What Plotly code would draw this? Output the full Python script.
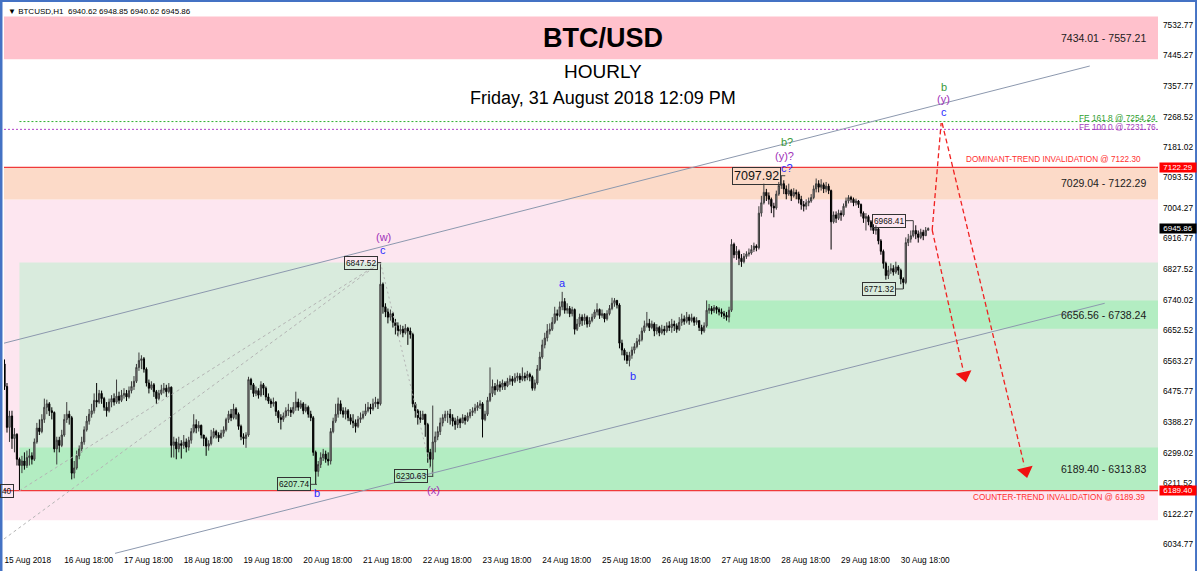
import plotly.graph_objects as go
from datetime import datetime, timedelta

# ---------------- DATA ----------------
T0 = datetime(2018, 8, 15, 18, 0)          # first hourly bar
first_open = 6555

closes = [
    6490, 6372, 6405, 6340, 6352, 6280, 6262, 6275, 6262, 6285,
    6290, 6280, 6330, 6370, 6360, 6395, 6430, 6440, 6420, 6415,
    6310, 6335, 6320, 6350, 6395, 6410, 6400, 6240, 6255,
    6290, 6310, 6330, 6365, 6390, 6410, 6420, 6450, 6445, 6470,
    6455, 6430, 6420, 6445,
    6455, 6445, 6462, 6450, 6465, 6470, 6460, 6478, 6490, 6505,
    6545, 6565, 6570, 6540, 6500, 6485, 6495, 6475,
    6455, 6470, 6480, 6485, 6475, 6488, 6320, 6330, 6310, 6325,
    6320, 6330, 6315, 6335, 6360, 6380, 6370, 6378, 6350,
    6340, 6318, 6325, 6345, 6360, 6350, 6342, 6355, 6365, 6395,
    6410, 6400, 6425, 6410, 6375, 6345, 6340, 6350, 6510, 6495,
    6470, 6478, 6465,
    6495, 6485, 6460, 6448, 6440, 6445, 6418, 6400, 6395, 6405, 6420,
    6422, 6415, 6430, 6445, 6430, 6440, 6420, 6430, 6410, 6400,
    6300, 6245, 6265, 6285, 6295, 6280,
    6275, 6360, 6390, 6410, 6440, 6420, 6410, 6420, 6400, 6390,
    6385, 6375, 6395, 6400, 6410, 6420, 6430, 6425, 6440, 6445, 6440,
    6785, 6720, 6705, 6690, 6700, 6675, 6665, 6650,
    6655, 6645, 6658, 6650, 6640, 6440, 6420, 6400, 6395, 6410,
    6380, 6300, 6280, 6330, 6345, 6360, 6385, 6400, 6410,
    6410, 6400, 6390, 6380, 6395, 6385, 6400, 6392, 6405, 6415,
    6420, 6428, 6435, 6440, 6395, 6410, 6450, 6470, 6490, 6480,
    6495, 6488, 6500, 6492, 6505,
    6512, 6505, 6515, 6520, 6510, 6520, 6515, 6525, 6518, 6485,
    6500, 6540, 6575, 6610, 6630, 6650, 6655, 6675, 6700, 6695,
    6720, 6735, 6710, 6715, 6700, 6712, 6655, 6670, 6690, 6680,
    6690, 6670, 6680, 6690, 6705, 6712, 6695, 6700,
    6685, 6700, 6715, 6730, 6738, 6725, 6615, 6595, 6580, 6565,
    6580, 6595, 6605, 6620, 6625, 6650, 6665, 6672, 6660, 6670,
    6650, 6660, 6645, 6655, 6650, 6665, 6660,
    6670, 6665, 6655, 6675, 6685, 6678, 6690, 6680, 6688, 6675, 6680,
    6660, 6650, 6665, 6710, 6715, 6708, 6718, 6712, 6705,
    6700, 6695, 6690, 6710, 6900, 6870, 6880, 6860, 6850, 6865, 6872,
    6875, 6885, 6895, 6890, 6990, 7020, 7050, 7040, 7030, 7010,
    7005, 7045, 7070, 7075, 7060, 7045, 7055, 7040, 7050, 7045, 7030, 7015,
    7010, 7020, 7025, 7035, 7060, 7075, 7065, 7072, 7060, 7068,
    7055, 6965, 6985, 6975, 6990, 6985, 7010, 7025, 7035, 7030, 7020, 7025, 7015,
    6990, 6975, 6980, 6965, 6950, 6940, 6945, 6910, 6880, 6845,
    6810, 6825, 6830, 6820, 6835, 6825, 6800, 6790, 6905, 6915,
    6925, 6940, 6930, 6920, 6935, 6925, 6940.62, 6945.86,
]

highs = [
    6568, 6500, 6420, 6420, 6370, 6355, 6285, 6290, 6300, 6305,
    6310, 6300, 6340, 6385, 6395, 6410, 6455, 6452, 6445, 6430,
    6418, 6345, 6345, 6365, 6410, 6445, 6420, 6405, 6275,
    6305, 6320, 6345, 6375, 6405, 6425, 6440, 6470, 6500, 6480,
    6478, 6460, 6445, 6455,
    6465, 6470, 6510, 6475, 6480, 6485, 6480, 6490, 6505, 6520,
    6555, 6588, 6580, 6575, 6545, 6510, 6505, 6500,
    6480, 6480, 6495, 6500, 6495, 6500, 6490, 6345, 6340, 6345,
    6335, 6350, 6340, 6345, 6370, 6410, 6395, 6390, 6380,
    6350, 6345, 6335, 6365, 6370, 6365, 6358, 6365, 6375, 6400,
    6420, 6425, 6440, 6430, 6415, 6380, 6355, 6358, 6518, 6515,
    6500, 6490, 6485,
    6505, 6500, 6490, 6470, 6455, 6458, 6448, 6422, 6410, 6415, 6430,
    6440, 6430, 6445, 6475, 6455, 6450, 6445, 6440, 6435, 6420,
    6405, 6305, 6275, 6300, 6310, 6305,
    6300, 6370, 6400, 6440, 6458, 6450, 6430, 6430, 6425, 6410,
    6410, 6395, 6405, 6415, 6420, 6440, 6445, 6440, 6455, 6460, 6455,
    6847.52, 6790, 6730, 6715, 6712, 6705, 6685, 6675,
    6668, 6665, 6670, 6662, 6660, 6645, 6445, 6425, 6420, 6420,
    6410, 6385, 6310, 6435, 6360, 6375, 6400, 6410, 6420,
    6420, 6425, 6410, 6400, 6405, 6400, 6410, 6408, 6415, 6425,
    6430, 6440, 6445, 6450, 6445, 6420, 6460, 6545, 6510, 6500,
    6510, 6505, 6510, 6505, 6515,
    6522, 6520, 6528, 6530, 6528, 6545, 6530, 6535, 6530, 6522,
    6510, 6552, 6590, 6625, 6645, 6670, 6672, 6690, 6720, 6712,
    6735, 6763, 6745, 6730, 6722, 6720, 6715, 6685, 6700, 6698,
    6700, 6695, 6690, 6700, 6712, 6730, 6715, 6712,
    6700, 6710, 6725, 6746, 6745, 6740, 6730, 6625, 6600, 6590,
    6590, 6605, 6615, 6630, 6640, 6660, 6680, 6705, 6685, 6680,
    6675, 6670, 6665, 6668, 6665, 6675, 6678,
    6685, 6680, 6672, 6690, 6700, 6695, 6705, 6698, 6700, 6692, 6690,
    6680, 6668, 6675, 6738.24, 6728, 6722, 6725, 6722, 6718,
    6715, 6708, 6705, 6720, 6915, 6905, 6895, 6885, 6872, 6875, 6880,
    6888, 6898, 6905, 6900, 7010, 7040, 7075, 7060, 7050, 7035,
    7020, 7055, 7080, 7097.92, 7085, 7070, 7075, 7060, 7062, 7058, 7052, 7040,
    7025, 7030, 7035, 7045, 7070, 7090, 7085, 7088, 7078, 7080,
    7075, 7058, 6995, 6995, 7000, 6998, 7018, 7035, 7042, 7040, 7035, 7032, 7028,
    7018, 6995, 6990, 6985, 6970, 6958, 6955, 6948, 6915, 6885,
    6850, 6838, 6845, 6840, 6850, 6840, 6830, 6805, 6920, 6930,
    6940, 6968.41, 6955, 6940, 6945, 6942, 6950, 6948.85,
]

lows = [
    6480, 6357, 6330, 6310, 6300, 6262, 6189.40, 6240, 6250, 6255,
    6262, 6265, 6275, 6325, 6350, 6355, 6385, 6410, 6405, 6395,
    6300, 6265, 6300, 6315, 6345, 6385, 6380, 6222, 6225,
    6250, 6280, 6300, 6322, 6360, 6380, 6400, 6412, 6430, 6440,
    6440, 6420, 6403, 6415,
    6430, 6435, 6440, 6440, 6445, 6455, 6448, 6455, 6470, 6480,
    6500, 6535, 6540, 6530, 6490, 6470, 6480, 6460,
    6440, 6450, 6465, 6470, 6460, 6470, 6285, 6285, 6280, 6300,
    6282, 6310, 6300, 6305, 6325, 6355, 6355, 6360, 6340,
    6318, 6290, 6305, 6320, 6340, 6340, 6330, 6340, 6345, 6360,
    6385, 6390, 6395, 6395, 6365, 6335, 6322, 6313, 6345, 6480,
    6460, 6462, 6455,
    6460, 6465, 6450, 6440, 6428, 6432, 6405, 6385, 6366, 6388, 6400,
    6405, 6402, 6410, 6420, 6420, 6425, 6410, 6415, 6400, 6390,
    6290, 6207.74, 6230, 6255, 6275, 6270,
    6262, 6265, 6355, 6385, 6400, 6410, 6400, 6395, 6390, 6380,
    6370, 6357, 6370, 6385, 6395, 6405, 6415, 6410, 6420, 6430, 6425,
    6435, 6700, 6690, 6672, 6680, 6660, 6640, 6635,
    6640, 6632, 6640, 6610, 6628, 6430, 6400, 6380, 6385, 6395,
    6345, 6270, 6255, 6230.63, 6300, 6335, 6350, 6375, 6390,
    6385, 6380, 6375, 6365, 6370, 6370, 6385, 6380, 6388, 6398,
    6405, 6412, 6420, 6425, 6343, 6390, 6405, 6445, 6460, 6465,
    6475, 6475, 6480, 6480, 6488,
    6495, 6492, 6500, 6505, 6500, 6505, 6505, 6508, 6505, 6478,
    6478, 6495, 6535, 6570, 6600, 6620, 6640, 6650, 6670, 6680,
    6690, 6710, 6700, 6700, 6690, 6692, 6640, 6650, 6662, 6665,
    6668, 6660, 6662, 6675, 6685, 6695, 6685, 6688,
    6675, 6680, 6695, 6710, 6720, 6715, 6600, 6580, 6565, 6555,
    6548, 6570, 6585, 6600, 6610, 6620, 6645, 6660, 6650, 6655,
    6635, 6640, 6635, 6640, 6638, 6645, 6650,
    6645, 6650, 6645, 6650, 6665, 6668, 6672, 6668, 6675, 6665, 6668,
    6650, 6640, 6645, 6660, 6700, 6698, 6702, 6700, 6695,
    6690, 6685, 6680, 6675, 6705, 6860, 6855, 6840, 6835, 6845, 6858,
    6865, 6870, 6878, 6880, 6885, 6980, 7015, 7025, 7015, 6990,
    6978, 7000, 7040, 7060, 7045, 7030, 7040, 7025, 7035, 7030, 7018, 7000,
    6995, 7000, 7010, 7020, 7030, 7050, 7050, 7055, 7048, 7050,
    7045, 6885, 6960, 6962, 6970, 6968, 6980, 7005, 7018, 7020, 7010, 7012, 7005,
    6980, 6962, 6940, 6955, 6940, 6930, 6928, 6900, 6870, 6830,
    6798, 6800, 6815, 6810, 6815, 6812, 6785, 6771.32, 6785, 6895,
    6905, 6920, 6915, 6905, 6915, 6912, 6925, 6940.62,
]

# price-axis tick values (as printed on the right scale)
ytick_vals = [7532.77, 7445.27, 7357.77, 7268.52, 7181.02, 7093.52, 7004.27,
              6916.77, 6827.52, 6740.02, 6652.52, 6563.27, 6475.77, 6388.27,
              6299.02, 6211.52, 6122.27, 6034.77]
# time-axis labels: every 24 bars
xtick_hours = [0, 24, 48, 72, 96, 120, 144, 168, 192, 216, 240, 264, 288, 312, 336, 360]
xtick_text = ["15 Aug 2018", "16 Aug 18:00", "17 Aug 18:00", "18 Aug 18:00", "19 Aug 18:00",
              "20 Aug 18:00", "21 Aug 18:00", "22 Aug 18:00", "23 Aug 18:00", "24 Aug 18:00",
              "25 Aug 18:00", "26 Aug 18:00", "27 Aug 18:00", "28 Aug 18:00", "29 Aug 18:00",
              "30 Aug 18:00"]

# support / resistance zones (low, high)
zone_labels = ["7434.01 - 7557.21", "7029.04 - 7122.29", "6656.56 - 6738.24", "6189.40 - 6313.83"]
zone_lo = [7434.01, 7029.04, 6656.56, 6189.40]
zone_hi = [7557.21, 7122.29, 6738.24, 6313.83]
pink_zone = [6104.0, 7029.04]
green_zone = [6189.40, 6847.52]

dominant_inval = 7122.29
counter_inval = 6189.40
fe_1618 = 7254.24
fe_1000 = 7231.76
last_price = 6945.86

# ---------------- helpers ----------------
def t(h):
    return T0 + timedelta(hours=h)

opens = [first_open] + closes[:-1]
times = [t(i) for i in range(len(closes))]

FONT = "Liberation Sans, Arial, sans-serif"
BLUE = "#2B2BFF"
PURPLE = "#A030B8"
GREEN = "#3A9A3A"

X_LEFT_H, X_RIGHT_H = -0.2, 463.3
Y_LO, Y_HI = 6006.76, 7593.35

fig = go.Figure()

fig.add_trace(go.Candlestick(
    x=times, open=opens, high=highs, low=lows, close=closes,
    increasing=dict(line=dict(color="#3c3c3c", width=1), fillcolor="#9a9a9a"),
    decreasing=dict(line=dict(color="#000000", width=1), fillcolor="#000000"),
    whiskerwidth=0, showlegend=False, hoverinfo="skip"))

shapes = []
def rect(x0, x1, y0, y1, color, xref="x"):
    shapes.append(dict(type="rect", xref=xref, yref="y", x0=x0, x1=x1, y0=y0, y1=y1,
                       fillcolor=color, line=dict(width=0), layer="below"))

def seg(h0, p0, h1, p1, color, width=1, dash="solid", layer="above"):
    shapes.append(dict(type="line", xref="x", yref="y", x0=t(h0), x1=t(h1), y0=p0, y1=p1,
                       line=dict(color=color, width=width, dash=dash), layer=layer))

# zones
rect(0, 1, pink_zone[0], pink_zone[1], "#FDE6F0", xref="paper")
rect(0, 1, zone_lo[1], zone_hi[1], "#FCDAC8", xref="paper")
rect(t(6), t(X_RIGHT_H), green_zone[0], green_zone[1], "#D9EBDD")
rect(t(282), t(X_RIGHT_H), zone_lo[2], zone_hi[2], "#B3EDC2")
rect(t(6), t(X_RIGHT_H), zone_lo[3], zone_hi[3], "#B3EDC2")
rect(0, 1, zone_lo[0], zone_hi[0], "#FFC1CC", xref="paper")

# invalidation lines
seg(X_LEFT_H, dominant_inval, X_RIGHT_H, dominant_inval, "#F03A3A", 1.2)
seg(X_LEFT_H, counter_inval, X_RIGHT_H, counter_inval, "#F03A3A", 1.2)
# fibonacci extension lines
seg(6, fe_1618, X_RIGHT_H, fe_1618, "#2FB02F", 1, "2px,2px")
seg(X_LEFT_H, fe_1000, X_RIGHT_H, fe_1000, "#B040C8", 1, "2px,2px")

# channel lines
CH = "#8C98AE"
seg(-0.2, 6614.9, 435.9, 7414.5, CH, 1)
seg(44.4, 6008.7, 441.9, 6730.0, CH, 1)

# wave connector lines
WG = "#B4B4B4"
seg(6, 6189.40, 151, 6847.52, WG, 1, "3px,3px")
seg(-0.2, 6050.0, 151, 6847.52, WG, 1, "3px,3px")
seg(151, 6847.52, 172, 6230.63, WG, 1, "2px,3px")

# projected path (red dashed)
seg(372.6, 6941.4, 376.2, 7250.0, "#F02020", 1.3, "5px,3px")
seg(372.6, 6941.4, 385.1, 6535.0, "#F02020", 1.3, "5px,3px")
seg(376.6, 7250.0, 409.6, 6262.0, "#F02020", 1.3, "5px,3px")

# arrow heads
fig.add_trace(go.Scatter(
    x=[t(385.5), t(410.1)], y=[6522.0, 6246.0], mode="markers",
    marker=dict(symbol="triangle-down", size=14, color="#F01010", angle=-13,
                line=dict(width=0)),
    showlegend=False, hoverinfo="skip"))

# label connector stubs (price boxes -> bar)
DG = "#404040"
seg(150.0, 6847.52, 151.3, 6847.52, DG)
seg(123.1, 6207.74, 125.5, 6207.74, DG)
seg(170.0, 6230.63, 172.2, 6230.63, DG)
seg(311.7, 7097.92, 313.6, 7097.92, DG)
seg(361.9, 6968.41, 365.0, 6968.41, DG)
seg(357.9, 6771.32, 361.0, 6771.32, DG)

# blue window frame
for x0, x1, y0, y1 in [(-0.0035, -0.0013, -0.031, 1.0073),
                       (-0.0035, 1.0338, 1.0036, 1.0073),
                       (1.0321, 1.0338, -0.031, 1.0073)]:
    shapes.append(dict(type="rect", xref="paper", yref="paper", x0=x0, x1=x1, y0=y0, y1=y1,
                       fillcolor="#4472C4", line=dict(width=0), layer="above"))

annotations = []
def ann(text, x, y, color="#222", size=8, xanchor="center", yanchor="middle",
        xref="x", yref="y", **kw):
    d = dict(text=text, x=x, y=y, xref=xref, yref=yref, showarrow=False,
             xanchor=xanchor, yanchor=yanchor,
             font=dict(family=FONT, size=size, color=color))
    d.update(kw)
    annotations.append(d)

# zone labels
for lab, lo, hi in zip(zone_labels, zone_lo, zone_hi):
    ann(lab, t(441.6), (lo + hi) / 2, "#1a1a1a", 10.5)

ann("DOMINANT-TREND INVALIDATION @ 7122.30", t(457.2), dominant_inval, "#FF3030", 8.2,
    xanchor="right", yshift=8)
ann("COUNTER-TREND INVALIDATION @ 6189.39", t(458.8), counter_inval, "#FF3030", 8.2,
    xanchor="right", yshift=-7)
ann("FE 161.8 @ 7254.24", 1, fe_1618, "#2E9E2E", 8.3, xanchor="right", xref="paper", yshift=4)
ann("FE 100.0 @ 7231.76", 1, fe_1000, "#A33DBA", 8.3, xanchor="right", xref="paper", yshift=2)

# price boxes
def box(text, h, p, size=8.3):
    ann(text, t(h), p, "#111", size, xanchor="right", bordercolor="#333",
        borderwidth=1, borderpad=1)
box("6847.52", 150.0, 6847.52)
box("6207.74", 123.1, 6207.74)
box("6230.63", 170.0, 6230.63)
box("7097.92", 311.7, 7097.92, 12.5)
box("6968.41", 361.9, 6968.41)
box("6771.32", 357.9, 6771.32)
box("40", 3.8, counter_inval)

# wave labels
waves = [("(w)", 152.1, 6920.3, PURPLE), ("c", 152.1, 6883.7, BLUE),
         ("b", 125.4, 6181.8, BLUE), ("(x)", 172.2, 6191.4, PURPLE),
         ("a", 224.2, 6789.4, BLUE), ("b", 252.3, 6521.1, BLUE),
         ("b?", 314.1, 7196.1, GREEN), ("(y)?", 313.1, 7154.9, PURPLE),
         ("c?", 314.1, 7119.4, BLUE),
         ("b", 377.3, 7354.8, GREEN), ("(y)", 377.3, 7318.4, PURPLE),
         ("c", 377.3, 7282.7, BLUE)]
for txt, h, p, c in waves:
    ann(txt, t(h), p, c, 11)

# right-scale price tags
for val, bg in [(dominant_inval, "#FF0000"), (last_price, "#000000"), (counter_inval, "#FF0000")]:
    ann(f"{val:.2f}", 1, val, "#FFFFFF", 8, xanchor="left", xref="paper",
        bgcolor=bg, borderpad=0, xshift=1, width=36)

# titles
ann("<b>BTC/USD</b>", 0.519, 0.9382, "#000", 27, xref="paper", yref="paper")
ann("HOURLY", 0.519, 0.8764, "#000", 19, xref="paper", yref="paper")
ann("Friday, 31 August 2018 12:09 PM", 0.519, 0.8291, "#000", 18, xref="paper", yref="paper")
ann("▼ BTCUSD,H1  6940.62 6948.85 6940.62 6945.86", 0.0017, 0.9855, "#000", 8,
    xanchor="left", xref="paper", yref="paper")

fig.update_layout(
    width=1197, height=571,
    margin=dict(l=4, r=39, t=4, b=17),
    paper_bgcolor="white", plot_bgcolor="white",
    shapes=shapes, annotations=annotations,
    showlegend=False,
    xaxis=dict(type="date", range=[t(X_LEFT_H), t(X_RIGHT_H)],
               rangeslider=dict(visible=False),
               tickvals=[t(h) for h in xtick_hours], ticktext=xtick_text,
               ticklabelposition="outside right",
               tickfont=dict(family=FONT, size=8.3, color="#000"),
               showgrid=False, zeroline=False, showline=False, ticks=""),
    yaxis=dict(side="right", range=[Y_LO, Y_HI],
               tickvals=ytick_vals, ticktext=[f"{v:.2f}" for v in ytick_vals],
               tickfont=dict(family=FONT, size=8.3, color="#000"),
               showgrid=False, zeroline=False, showline=False, ticks="",
               ticklabelstandoff=4),
)

fig.write_html("out.html",
               config={"displayModeBar": False},
               post_script="document.body.style.margin='0';document.body.style.padding='0';"
                           "document.body.style.overflow='hidden';")
